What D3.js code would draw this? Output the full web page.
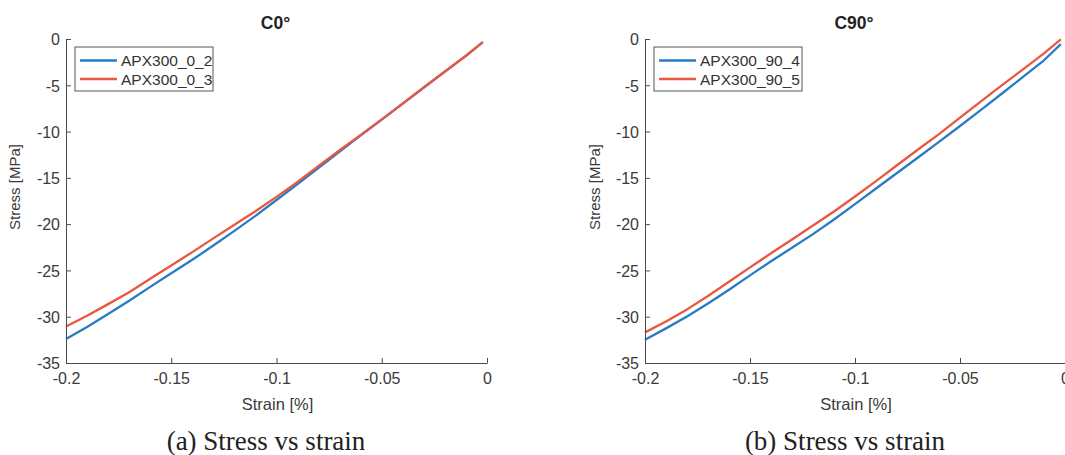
<!DOCTYPE html>
<html>
<head>
<meta charset="utf-8">
<script src="https://cdn.jsdelivr.net/npm/d3@7"></script>
<style>
  html, body { margin: 0; padding: 0; background: #fff; }
  svg { display: block; }
  .tick text { font-family: "Liberation Sans", Arial, sans-serif; }
</style>
</head>
<body>
<svg id="fig" width="1065" height="455"></svg>
<script>
// Strain grid [%] shared by all four test records
const strain = [-0.20, -0.19, -0.18, -0.17, -0.16, -0.15, -0.14, -0.13, -0.12, -0.11,
                -0.10, -0.09, -0.08, -0.07, -0.06, -0.05, -0.04, -0.03, -0.02, -0.01, -0.002];

// Compression stress [MPa], 0° specimens
const apx300_0_2 = [-32.41, -31.10, -29.70, -28.28, -26.78, -25.31, -23.85, -22.31, -20.73, -19.10,
                    -17.39, -15.66, -13.91, -12.16, -10.42, -8.71, -6.98, -5.24, -3.52, -1.82, -0.34];
const apx300_0_3 = [-31.05, -29.90, -28.64, -27.35, -25.90, -24.46, -23.02, -21.54, -20.07, -18.60,
                    -17.05, -15.44, -13.71, -12.02, -10.35, -8.68, -6.96, -5.23, -3.51, -1.81, -0.34];

// Compression stress [MPa], 90° specimens
const apx300_90_4 = [-32.48, -31.26, -29.98, -28.58, -27.08, -25.53, -24.01, -22.56, -21.08, -19.50,
                     -17.84, -16.15, -14.48, -12.80, -11.12, -9.40, -7.66, -5.89, -4.10, -2.30, -0.56];
const apx300_90_5 = [-31.69, -30.52, -29.21, -27.76, -26.23, -24.67, -23.15, -21.65, -20.15, -18.63,
                     -17.02, -15.36, -13.64, -11.94, -10.27, -8.49, -6.73, -4.99, -3.28, -1.56, -0.05];

// Axis ticks and labels
const xTicks = [-0.2, -0.15, -0.1, -0.05, 0];
const yTicks = [0, -5, -10, -15, -20, -25, -30, -35];
const panelTitles = ["C0°", "C90°"];
const captions = ["(a) Stress vs strain", "(b) Stress vs strain"];
const seriesNames = [["APX300_0_2", "APX300_0_3"], ["APX300_90_4", "APX300_90_5"]];
const seriesValues = [[apx300_0_2, apx300_0_3], [apx300_90_4, apx300_90_5]];
const colors = ["#2a7bc6", "#e9573f"];

const svg = d3.select("#fig");
const sans = '"Liberation Sans", Arial, Helvetica, sans-serif';
const serif = '"Liberation Serif", "Times New Roman", serif';
const axisColor = "#4a4a4a";
const textColor = "#3a3a3a";

const panels = [
  { left: 66, right: 487, top: 39, bottom: 363, ylabX: 20, captionX: 266, legend: { x: 75, w: 138 } },
  { left: 645, right: 1065, top: 39, bottom: 363, ylabX: 600, captionX: 845, legend: { x: 654, w: 148 } }
];

panels.forEach((p, i) => {
  const x = d3.scaleLinear().domain([-0.2, 0]).range([p.left, p.right]);
  const y = d3.scaleLinear().domain([-35, 0]).range([p.bottom, p.top]);
  const g = svg.append("g");

  // Curves
  const line = d3.line().x((d, k) => x(strain[k])).y(d => y(d));
  seriesValues[i].forEach((vals, s) => {
    g.append("path")
      .datum(vals)
      .attr("fill", "none")
      .attr("stroke", colors[s])
      .attr("stroke-width", 2.3)
      .attr("stroke-linejoin", "round")
      .attr("d", line);
  });

  // Bottom axis, ticks pointing inward
  const xAxis = d3.axisBottom(x).tickValues(xTicks).tickSizeInner(-5).tickSizeOuter(0)
    .tickFormat(d => d === 0 ? "0" : String(d));
  const gx = g.append("g").attr("transform", `translate(0,${p.bottom})`).call(xAxis);
  gx.select(".domain").attr("stroke", axisColor);
  gx.selectAll(".tick line").attr("stroke", axisColor);
  gx.selectAll(".tick text").attr("fill", textColor).attr("font-size", 16)
    .attr("y", 10).attr("dy", "0.71em");

  // Left axis, ticks pointing inward
  const yAxis = d3.axisLeft(y).tickValues(yTicks).tickSizeInner(-5).tickSizeOuter(0)
    .tickFormat(d => String(d));
  const gy = g.append("g").attr("transform", `translate(${p.left},0)`).call(yAxis);
  gy.select(".domain").attr("stroke", axisColor);
  gy.selectAll(".tick line").attr("stroke", axisColor);
  gy.selectAll(".tick text").attr("fill", textColor).attr("font-size", 16)
    .attr("x", -6).attr("dy", "0.36em");

  // Axis labels
  g.append("text")
    .attr("x", (p.left + p.right) / 2 + 1).attr("y", 410)
    .attr("text-anchor", "middle").attr("font-family", sans).attr("font-size", 16.5)
    .attr("fill", textColor).text("Strain [%]");
  g.append("text")
    .attr("transform", `translate(${p.ylabX},187) rotate(-90)`)
    .attr("text-anchor", "middle").attr("font-family", sans).attr("font-size", 15)
    .attr("fill", textColor).text("Stress [MPa]");

  // Panel title
  g.append("text")
    .attr("x", (p.left + p.right) / 2 - 1).attr("y", 29)
    .attr("text-anchor", "middle").attr("font-family", sans).attr("font-size", 17.5)
    .attr("font-weight", "bold").attr("fill", "#222").text(panelTitles[i]);

  // Legend
  const lg = g.append("g").attr("transform", `translate(${p.legend.x},47)`);
  lg.append("rect").attr("width", p.legend.w).attr("height", 44)
    .attr("fill", "#fff").attr("stroke", "#555").attr("stroke-width", 1);
  seriesNames[i].forEach((name, s) => {
    const yy = 13.5 + s * 18.5;
    lg.append("line").attr("x1", 5).attr("x2", 42).attr("y1", yy).attr("y2", yy)
      .attr("stroke", colors[s]).attr("stroke-width", 2.3);
    lg.append("text").attr("x", 46).attr("y", yy + 5.8)
      .attr("font-family", sans).attr("font-size", 15.5).attr("fill", "#333").text(name);
  });

  // Sub-figure caption
  g.append("text")
    .attr("x", p.captionX).attr("y", 450)
    .attr("text-anchor", "middle").attr("font-family", serif).attr("font-size", 27)
    .attr("fill", "#222").text(captions[i]);
});
</script>
</body>
</html>
